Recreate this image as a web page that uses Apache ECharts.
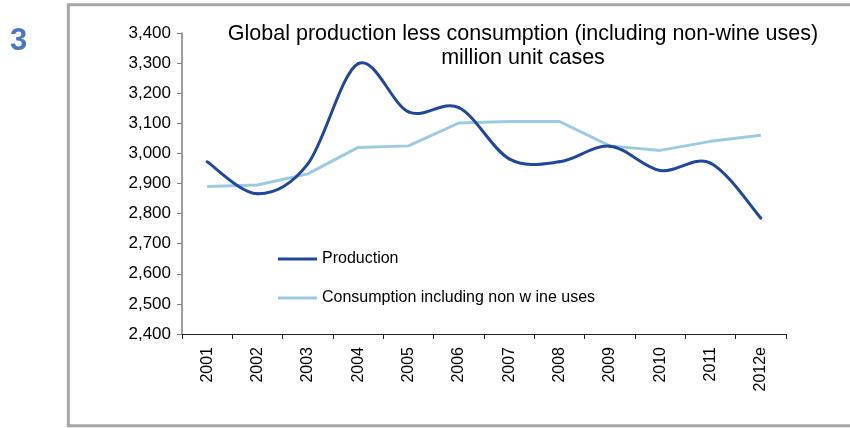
<!DOCTYPE html>
<html>
<head>
<meta charset="utf-8">
<script src="https://cdn.jsdelivr.net/npm/echarts@6/dist/echarts.min.js"></script>
<style>
  html, body { margin: 0; padding: 0; background: #ffffff; }
  #chart { width: 850px; height: 428px; }
</style>
</head>
<body>
<div id="chart"></div>
<script>
// Years on the category axis
const years = ['2001', '2002', '2003', '2004', '2005', '2006', '2007', '2008', '2009', '2010', '2011', '2012e'];

// Global production, million unit cases
const production = [2972, 2866, 2965, 3298, 3138, 3152, 2982, 2972, 3024, 2943, 2968, 2785];

// Global consumption including non-wine uses, million unit cases
const consumption = [2890, 2895, 2932, 3020, 3025, 3101, 3106, 3106, 3025, 3010, 3040, 3060];

// Value axis range
const yMin = 2400;
const yMax = 3400;
const yStep = 100;

const FONT = '"Liberation Sans", Arial, sans-serif';
const PROD_COLOR = '#20479b';
const CONS_COLOR = '#9dcae1';

// Production is drawn as a Catmull-Rom spline through the yearly points:
// each item draws the cubic segment from its own point to the next one,
// with control points taken from the neighbouring points in pixel space.
function renderSpline(params, api) {
  const i = params.dataIndex;
  const n = production.length;
  if (i >= n - 1) return null;
  const clampIdx = k => Math.max(0, Math.min(n - 1, k));
  const pt = k => api.coord([clampIdx(k), production[clampIdx(k)]]);
  const p0 = pt(i - 1), p1 = pt(i), p2 = pt(i + 1), p3 = pt(i + 2);
  return {
    type: 'bezierCurve',
    shape: {
      x1: p1[0], y1: p1[1],
      x2: p2[0], y2: p2[1],
      cpx1: p1[0] + (p2[0] - p0[0]) / 6,
      cpy1: p1[1] + (p2[1] - p0[1]) / 6,
      cpx2: p2[0] - (p3[0] - p1[0]) / 6,
      cpy2: p2[1] - (p3[1] - p1[1]) / 6
    },
    style: { stroke: PROD_COLOR, lineWidth: 3, fill: null, lineCap: 'round' },
    silent: true
  };
}

const chart = echarts.init(document.getElementById('chart'), null, { renderer: 'canvas' });

chart.setOption({
  animation: false,
  backgroundColor: '#ffffff',
  title: {
    text: 'Global production less consumption (including non-wine uses)\nmillion unit cases',
    left: 523,
    top: 22,
    padding: 0,
    textAlign: 'center',
    textStyle: {
      fontFamily: FONT,
      fontWeight: 'normal',
      fontSize: 21.5,
      lineHeight: 24,
      color: '#000000'
    }
  },
  graphic: [
    {
      type: 'rect',
      shape: { x: 68.3, y: 4.7, width: 900, height: 421 },
      style: { fill: 'none', stroke: '#a6a6a6', lineWidth: 3 },
      silent: true
    },
    {
      type: 'text',
      left: 10,
      top: 26,
      style: {
        text: '3',
        fontFamily: FONT,
        fontWeight: 'bold',
        fontSize: 31,
        fill: '#4a76c2'
      },
      silent: true
    }
  ],
  legend: {
    orient: 'vertical',
    left: 278,
    top: 251,
    padding: 0,
    itemWidth: 39,
    itemHeight: 3,
    itemGap: 23,
    icon: 'rect',
    textStyle: {
      fontFamily: FONT,
      fontSize: 16,
      color: '#000000'
    },
    data: ['Production', 'Consumption including non w ine uses']
  },
  grid: {
    left: 182,
    right: 64,
    top: 33,
    bottom: 94,
    containLabel: false
  },
  xAxis: {
    type: 'category',
    data: years,
    boundaryGap: true,
    axisLine: { show: true, lineStyle: { color: '#222222', width: 1 } },
    axisTick: { show: true, length: 5, inside: false, lineStyle: { color: '#222222' } },
    axisLabel: {
      rotate: 90,
      margin: 13,
      interval: 0,
      fontFamily: FONT,
      fontSize: 16,
      color: '#000000'
    },
    splitLine: { show: false }
  },
  yAxis: {
    type: 'value',
    min: yMin,
    max: yMax,
    interval: yStep,
    axisLine: { show: true, lineStyle: { color: '#7f7f7f', width: 1.5 } },
    axisTick: { show: true, length: 5, inside: false, lineStyle: { color: '#7f7f7f' } },
    axisLabel: {
      margin: 11,
      fontFamily: FONT,
      fontSize: 17,
      color: '#000000',
      formatter: v => v.toLocaleString('en-US')
    },
    splitLine: { show: false }
  },
  series: [
    {
      name: 'Production',
      type: 'custom',
      renderItem: renderSpline,
      data: production.map((v, i) => [i, v]),
      encode: { x: 0, y: 1 },
      z: 3,
      itemStyle: { color: PROD_COLOR }
    },
    {
      name: 'Consumption including non w ine uses',
      type: 'line',
      data: consumption,
      smooth: false,
      showSymbol: false,
      symbol: 'none',
      z: 2,
      lineStyle: { color: CONS_COLOR, width: 3 },
      itemStyle: { color: CONS_COLOR }
    }
  ]
});
</script>
</body>
</html>
